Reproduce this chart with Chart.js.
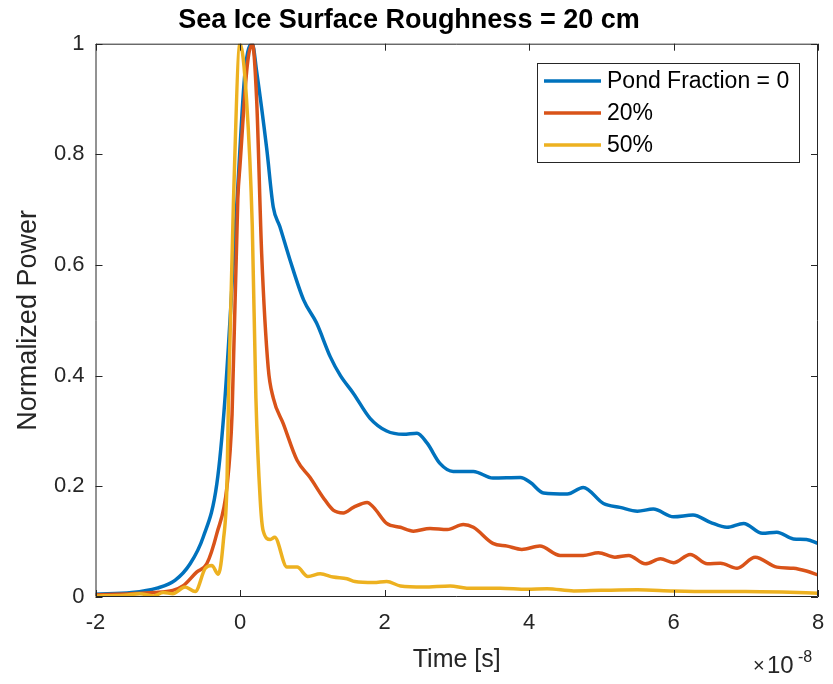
<!DOCTYPE html>
<html>
<head>
<meta charset="utf-8">
<script src="https://cdn.jsdelivr.net/npm/chart.js@4"></script>
<style>
  html, body { margin: 0; padding: 0; background: #fff; }
  #wrap { width: 833px; height: 684px; }
</style>
</head>
<body>
<div id="wrap"><canvas id="chartRough"></canvas></div>
<script>
const ctx = document.getElementById('chartRough').getContext('2d');

// time in units of 1e-8 s
const xTicks = [-2, 0, 2, 4, 6, 8];
const yTicks = [0, 0.2, 0.4, 0.6, 0.8, 1];

const tempoPond0 = [-2, -1.5, -1.15, -0.9, -0.69, -0.51, -0.32, -0.21, -0.04, 0.07, 0.17, 0.23, 0.37, 0.46, 0.55, 0.69, 0.88, 1.06, 1.25, 1.39, 1.57, 1.8, 2.03, 2.26, 2.45, 2.59, 2.77, 2.95, 3.23, 3.5, 3.88, 4.02, 4.2, 4.53, 4.75, 5.03, 5.26, 5.5, 5.72, 6.0, 6.27, 6.51, 6.74, 6.97, 7.23, 7.43, 7.66, 7.84, 8.0];
const potPond0 = [0.005, 0.008, 0.016, 0.03, 0.06, 0.108, 0.205, 0.355, 0.72, 0.95, 1.0, 0.95, 0.81, 0.705, 0.67, 0.61, 0.537, 0.495, 0.434, 0.40, 0.368, 0.323, 0.30, 0.294, 0.296, 0.278, 0.241, 0.227, 0.227, 0.215, 0.216, 0.207, 0.188, 0.186, 0.198, 0.169, 0.162, 0.155, 0.159, 0.145, 0.148, 0.135, 0.126, 0.133, 0.115, 0.117, 0.105, 0.104, 0.097];

const tempoPond20 = [-2, -1.5, -1.2, -0.93, -0.79, -0.6, -0.46, -0.32, -0.18, -0.11, -0.03, 0.0, 0.1, 0.17, 0.23, 0.3, 0.39, 0.46, 0.6, 0.79, 0.97, 1.15, 1.29, 1.43, 1.57, 1.76, 1.85, 2.03, 2.22, 2.4, 2.63, 2.87, 3.09, 3.23, 3.5, 3.7, 3.9, 4.15, 4.43, 4.75, 4.96, 5.19, 5.38, 5.61, 5.82, 6.0, 6.23, 6.47, 6.65, 6.88, 7.13, 7.43, 7.66, 7.84, 8.0];
const potPond20 = [0.004, 0.006, 0.008, 0.012, 0.02, 0.045, 0.06, 0.115, 0.2, 0.33, 0.72, 0.78, 0.96, 1.0, 0.90, 0.62, 0.415, 0.36, 0.313, 0.247, 0.216, 0.18, 0.157, 0.152, 0.162, 0.171, 0.162, 0.133, 0.126, 0.119, 0.124, 0.122, 0.131, 0.126, 0.097, 0.092, 0.086, 0.092, 0.075, 0.075, 0.08, 0.072, 0.075, 0.06, 0.069, 0.062, 0.077, 0.06, 0.061, 0.052, 0.072, 0.054, 0.052, 0.047, 0.04];

const tempoPond50 = [-2, -1.6, -1.39, -1.2, -1.06, -0.93, -0.76, -0.62, -0.48, -0.39, -0.3, -0.23, -0.18, -0.16, -0.09, 0.0, 0.09, 0.17, 0.22, 0.28, 0.32, 0.42, 0.48, 0.65, 0.79, 0.94, 1.11, 1.29, 1.48, 1.59, 1.85, 2.03, 2.22, 2.54, 2.91, 3.14, 3.6, 3.97, 4.25, 4.62, 5.0, 5.5, 6.0, 6.5, 7.0, 7.5, 8.0];
const potPond50 = [0.002, 0.003, 0.006, 0.002, 0.008, 0.006, 0.018, 0.01, 0.052, 0.057, 0.041, 0.102, 0.205, 0.355, 0.717, 1.0, 0.9, 0.67, 0.36, 0.175, 0.12, 0.104, 0.108, 0.054, 0.054, 0.037, 0.042, 0.036, 0.033, 0.028, 0.026, 0.028, 0.02, 0.018, 0.02, 0.016, 0.016, 0.014, 0.015, 0.011, 0.012, 0.013, 0.011, 0.01, 0.01, 0.009, 0.007];

const pares = (xs, ys) => xs.map((x, i) => ({ x: x, y: ys[i] }));

const corTexto = '#262626';
const fonte = "'Liberation Sans', Arial, sans-serif";

// box with inward ticks, legend and the x10^-8 exponent
const moldura = {
    id: 'moldura',
    afterDatasetsDraw(chart) {
        const c = chart.ctx;
        const a = chart.chartArea;
        const sx = chart.scales.x, sy = chart.scales.y;
        c.save();
        c.strokeStyle = corTexto;
        c.lineWidth = 1;
        c.beginPath();
        c.rect(a.left + 0.5, a.top + 0.5, a.right - a.left - 1, a.bottom - a.top - 1);
        xTicks.forEach(v => {
            const px = Math.round(sx.getPixelForValue(v)) + 0.5;
            c.moveTo(px, a.bottom); c.lineTo(px, a.bottom - 7);
            c.moveTo(px, a.top); c.lineTo(px, a.top + 7);
        });
        yTicks.forEach(v => {
            const py = Math.round(sy.getPixelForValue(v)) + 0.5;
            c.moveTo(a.left, py); c.lineTo(a.left + 7, py);
            c.moveTo(a.right, py); c.lineTo(a.right - 7, py);
        });
        c.stroke();

        // legend
        const lx = 537, ly = 63, lw = 262, lh = 99;
        c.fillStyle = '#fff';
        c.fillRect(lx, ly, lw, lh);
        c.strokeStyle = '#262626';
        c.strokeRect(lx + 0.5, ly + 0.5, lw, lh);
        const rows = [81, 113, 145];
        chart.data.datasets.forEach((ds, i) => {
            c.strokeStyle = ds.borderColor;
            c.lineWidth = 3.5;
            c.beginPath();
            c.moveTo(lx + 7, rows[i]); c.lineTo(lx + 64, rows[i]);
            c.stroke();
            c.fillStyle = '#000';
            c.font = '23px ' + fonte;
            c.textBaseline = 'middle';
            c.textAlign = 'left';
            c.fillText(ds.label, lx + 70, rows[i] + 1);
        });

        // exponent
        c.fillStyle = corTexto;
        c.textBaseline = 'alphabetic';
        c.font = '20px ' + fonte;
        c.fillText('\u00d7', 753, 672);
        c.font = '24px ' + fonte;
        c.fillText('10', 767, 673);
        c.font = '16px ' + fonte;
        c.fillText('-8', 798, 662);
        c.restore();
    }
};

const graficoRugosidade = new Chart(ctx, {
    type: 'line',
    data: {
        datasets: [
            {
                label: 'Pond Fraction = 0',
                data: pares(tempoPond0, potPond0),
                borderColor: '#0072BD',
                order: 3
            },
            {
                label: '20%',
                data: pares(tempoPond20, potPond20),
                borderColor: '#D95319',
                order: 2
            },
            {
                label: '50%',
                data: pares(tempoPond50, potPond50),
                borderColor: '#EDB120',
                order: 1
            }
        ]
    },
    options: {
        responsive: true,
        maintainAspectRatio: false,
        animation: false,
        datasets: {
            line: {
                borderWidth: 3.5,
                pointRadius: 0,
                fill: false,
                cubicInterpolationMode: 'monotone'
            }
        },
        layout: { padding: { left: 0, right: 15, top: 0, bottom: 0 } },
        plugins: {
            legend: { display: false },
            tooltip: { enabled: false },
            title: {
                display: true,
                text: 'Sea Ice Surface Roughness = 20 cm',
                color: '#000',
                font: { family: fonte, size: 27, weight: 'bold', lineHeight: 1.2 },
                padding: { top: 4, bottom: 7.3 }
            }
        },
        scales: {
            x: {
                type: 'linear',
                min: -2,
                max: 8,
                afterBuildTicks: s => { s.ticks = xTicks.map(v => ({ value: v })); },
                afterFit: s => { s.height = 87; s.paddingLeft = 0; s.paddingRight = 0; },
                grid: { display: false, drawTicks: false },
                border: { display: false },
                ticks: {
                    color: corTexto,
                    font: { family: fonte, size: 22 },
                    padding: 13,
                    maxRotation: 0,
                    callback: v => String(v)
                },
                title: {
                    display: true,
                    text: 'Time [s]',
                    color: corTexto,
                    font: { family: fonte, size: 25 },
                    padding: { top: 0, bottom: 9 }
                }
            },
            y: {
                type: 'linear',
                min: 0,
                max: 1,
                afterBuildTicks: s => { s.ticks = yTicks.map(v => ({ value: v })); },
                afterFit: s => { s.width = 95.5; s.paddingTop = 0; s.paddingBottom = 0; },
                grid: { display: false, drawTicks: false },
                border: { display: false },
                ticks: {
                    color: corTexto,
                    font: { family: fonte, size: 22 },
                    padding: 11,
                    callback: v => String(Math.round(v * 10) / 10)
                },
                title: {
                    display: true,
                    text: 'Normalized Power',
                    color: corTexto,
                    font: { family: fonte, size: 27 },
                    padding: { top: 12, bottom: 0 }
                }
            }
        }
    },
    plugins: [moldura]
});
</script>
</body>
</html>
